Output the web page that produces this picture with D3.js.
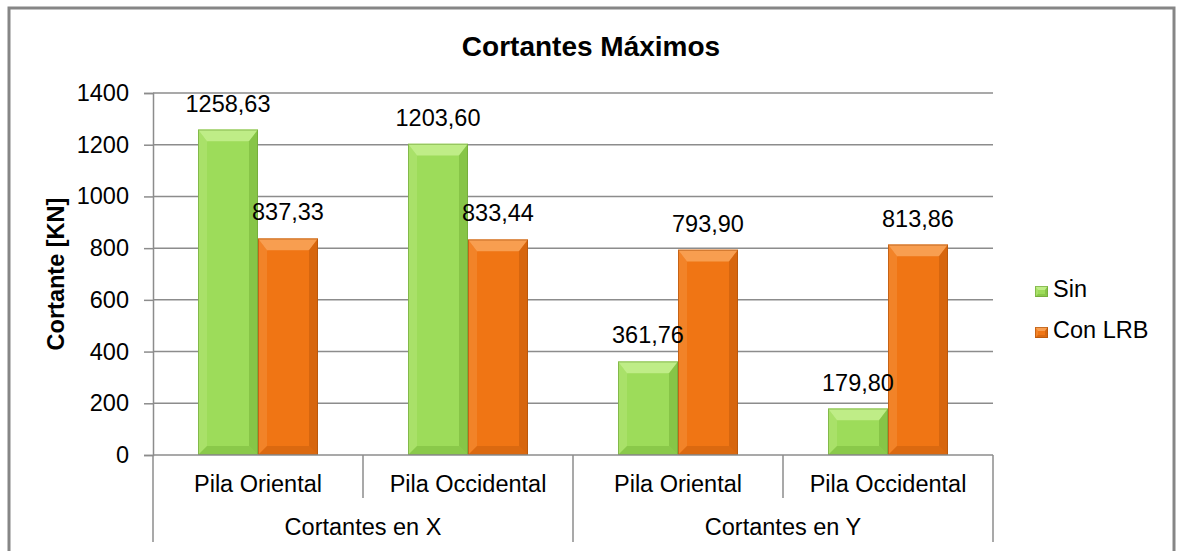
<html>
<head>
<meta charset="utf-8">
<style>
  body { margin: 0; background: #fff; }
  svg text { font-family: "Liberation Sans", Arial, sans-serif; }
</style>
<script src="https://cdnjs.cloudflare.com/ajax/libs/d3/7.8.5/d3.min.js"></script>
</head>
<body>
<div id="chart"></div>
<script>
// chart data
const groups = ['Cortantes en X', 'Cortantes en Y'];
const categories = ['Pila Oriental', 'Pila Occidental', 'Pila Oriental', 'Pila Occidental'];
const seriesNames = ['Sin', 'Con LRB'];
const sinValues = [1258.63, 1203.60, 361.76, 179.80];
const lrbValues = [837.33, 833.44, 793.90, 813.86];
const yTicks = [0, 200, 400, 600, 800, 1000, 1200, 1400];

const W = 1177, H = 551;
const plot = { left: 153, right: 993, top: 93, bottom: 455 };
const fs = 23.5;

const colors = {
  'Sin': { base: '#9ddc5a', light: '#c6f08f', dark: '#74b238', edge: '#6a9e36' },
  'Con LRB': { base: '#f07514', light: '#f9a65a', dark: '#c25a0a', edge: '#a94f0a' }
};

const svg = d3.select('#chart').append('svg')
  .attr('width', W).attr('height', H);

// outer frame
svg.append('rect')
  .attr('x', 9).attr('y', 8)
  .attr('width', 1165).attr('height', 560)
  .attr('fill', '#fff')
  .attr('stroke', '#868686')
  .attr('stroke-width', 3);

const x = d3.scaleBand()
  .domain(d3.range(categories.length))
  .range([plot.left, plot.right]);

const inner = d3.scaleBand()
  .domain(seriesNames)
  .range([0, x.bandwidth()])
  .paddingOuter(0.75)
  .paddingInner(0);

const y = d3.scaleLinear()
  .domain([0, 1400])
  .range([plot.bottom, plot.top]);

// gridlines
svg.append('g')
  .selectAll('line')
  .data(yTicks.filter(d => d > 0))
  .join('line')
  .attr('x1', plot.left).attr('x2', plot.right)
  .attr('y1', d => y(d)).attr('y2', d => y(d))
  .attr('stroke', '#8c8c8c')
  .attr('stroke-width', 1.5);

// y axis
const yAxis = svg.append('g')
  .attr('transform', `translate(${plot.left},0)`)
  .call(d3.axisLeft(y).tickValues(yTicks).tickSize(9).tickPadding(15).tickFormat(d3.format('d')));
yAxis.select('.domain').attr('stroke', '#8c8c8c').attr('stroke-width', 1.5);
yAxis.selectAll('.tick line').attr('stroke', '#8c8c8c').attr('stroke-width', 1.5);
yAxis.selectAll('.tick text')
  .attr('font-size', fs)
  .attr('font-family', '"Liberation Sans", Arial, sans-serif')
  .attr('fill', '#000');

// bars with bevel
const rows = [];
categories.forEach((c, i) => {
  rows.push({ i, s: 'Sin', v: sinValues[i] });
  rows.push({ i, s: 'Con LRB', v: lrbValues[i] });
});

function bevel(g, x0, y0, w, h, c, b) {
  g.append('rect').attr('x', x0).attr('y', y0).attr('width', w).attr('height', h)
    .attr('fill', c.base);
  const x1 = x0 + w, y1 = y0 + h;
  const poly = (pts, fill, op) => g.append('polygon')
    .attr('points', pts.map(p => p.join(',')).join(' '))
    .attr('fill', fill).attr('opacity', op);
  poly([[x0, y0], [x1, y0], [x1 - b, y0 + b * 1.3], [x0 + b, y0 + b * 1.3]], c.light, 0.85);
  poly([[x0, y0], [x0 + b, y0 + b * 1.3], [x0 + b, y1 - b], [x0, y1]], c.light, 0.3);
  poly([[x1, y0], [x1, y1], [x1 - b, y1 - b], [x1 - b, y0 + b * 1.3]], c.dark, 0.55);
  poly([[x0, y1], [x0 + b, y1 - b], [x1 - b, y1 - b], [x1, y1]], c.dark, 0.45);
  g.append('rect').attr('x', x0 + 0.5).attr('y', y0 + 0.5).attr('width', w - 1).attr('height', h - 1)
    .attr('fill', 'none').attr('stroke', c.edge).attr('stroke-width', 1).attr('opacity', 0.6);
}

const barG = svg.append('g');
rows.forEach(d => {
  const bx = x(d.i) + inner(d.s);
  const by = y(d.v);
  const g = barG.append('g');
  bevel(g, bx, by, inner.bandwidth(), y(0) - by, colors[d.s], 9);
});

// data labels
svg.append('g')
  .selectAll('text')
  .data(rows)
  .join('text')
  .attr('x', d => x(d.i) + inner(d.s) + inner.bandwidth() / 2)
  .attr('y', d => y(d.v) - 18)
  .attr('text-anchor', 'middle')
  .attr('font-size', fs)
  .attr('fill', '#000')
  .text(d => d3.format('.2f')(d.v).replace('.', ','));

// x axis line
svg.append('line')
  .attr('x1', plot.left).attr('x2', plot.right)
  .attr('y1', y(0)).attr('y2', y(0))
  .attr('stroke', '#8c8c8c').attr('stroke-width', 1.5);

// category separators
const seps = d3.range(categories.length + 1);
svg.append('g')
  .selectAll('line')
  .data(seps)
  .join('line')
  .attr('x1', i => plot.left + i * x.step())
  .attr('x2', i => plot.left + i * x.step())
  .attr('y1', y(0))
  .attr('y2', i => (i % 2 === 0) ? 542 : 498)
  .attr('stroke', '#8c8c8c').attr('stroke-width', 1.5);

// first-level labels
svg.append('g')
  .selectAll('text')
  .data(categories)
  .join('text')
  .attr('x', (d, i) => x(i) + x.bandwidth() / 2)
  .attr('y', 492)
  .attr('text-anchor', 'middle')
  .attr('font-size', fs)
  .text(d => d);

// group labels
svg.append('g')
  .selectAll('text')
  .data(groups)
  .join('text')
  .attr('x', (d, i) => plot.left + (i * 2 + 1) * x.step())
  .attr('y', 535)
  .attr('text-anchor', 'middle')
  .attr('font-size', fs)
  .text(d => d);

// title
svg.append('text')
  .attr('x', 591)
  .attr('y', 56)
  .attr('text-anchor', 'middle')
  .attr('font-size', 28)
  .attr('font-weight', 'bold')
  .text('Cortantes Máximos');

// y axis title
svg.append('text')
  .attr('transform', `translate(64, ${(plot.top + plot.bottom) / 2}) rotate(-90)`)
  .attr('text-anchor', 'middle')
  .attr('font-size', fs)
  .attr('font-weight', 'bold')
  .text('Cortante [KN]');

// legend
const legend = svg.append('g').attr('transform', 'translate(1035, 297)');
seriesNames.forEach((s, i) => {
  const g = legend.append('g').attr('transform', `translate(0, ${i * 41})`);
  bevel(g, 0, -11, 13, 11, colors[s], 3);
  g.append('text')
    .attr('x', 18).attr('y', 0)
    .attr('font-size', fs)
    .text(s);
});
</script>
</body>
</html>
